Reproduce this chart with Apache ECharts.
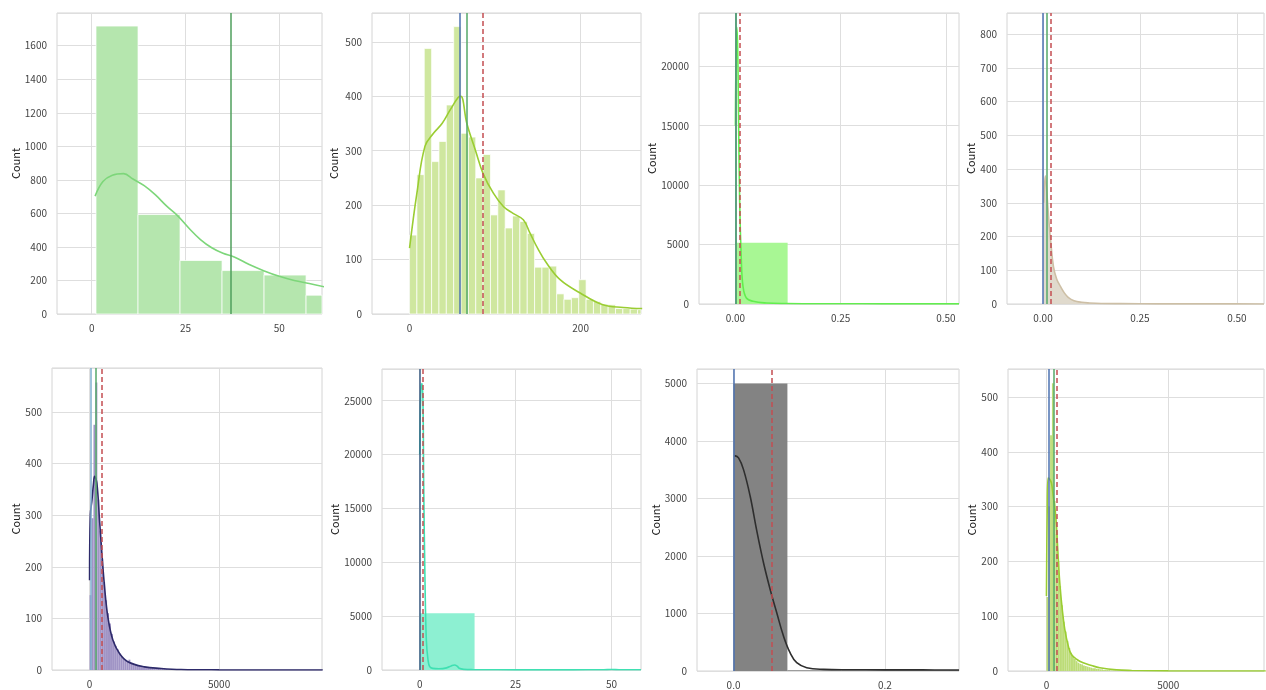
<!DOCTYPE html>
<html><head><meta charset="utf-8">
<script src="https://cdn.jsdelivr.net/npm/echarts@6/dist/echarts.min.js"></script>
<style>html,body{margin:0;padding:0;background:#fff}#c{width:1266px;height:690px}</style>
</head><body><div id="c"></div>
<script>
// ---------- Panel 1 ----------
const p1XTicks = [0, 25, 50];
const p1BinStart = 1.15, p1BinWidth = 11.2;
const p1Counts = [1717, 593, 319, 259, 232, 112];
const p1KdeX = [0.9, 3, 5.5, 8.5, 11, 14, 17, 20, 23, 26, 29, 32, 35, 38, 42, 46, 50, 54, 58, 62];
const p1KdeY = [703, 790, 828, 837, 805, 765, 710, 643, 584, 510, 444, 395, 362, 340, 295, 257, 225, 200, 182, 162];
const p1VLines = [37.0];
// ---------- Panel 2 ----------
const p2XTicks = [0, 200];
const p2BinStart = 0, p2BinWidth = 8.6;
const p2Counts = [145, 256, 488, 280, 317, 384, 528, 332, 325, 250, 293, 182, 228, 158, 180, 170, 148, 86, 86, 88, 37, 27, 30, 63, 27, 23, 18, 17, 10, 10, 9, 8];
const p2KdeX = [0, 8.6, 18, 28, 38, 47.5, 57, 60, 67, 77, 86, 98, 110, 121, 133, 141, 150, 160, 176, 199, 226, 250, 272];
const p2KdeY = [121, 222, 308, 332, 350, 375, 398, 400, 350, 301, 258, 222, 197, 185, 173, 148, 120, 94, 63, 39, 17, 12, 10];
const p2VLines = [59.1, 67.3, 85.2];
// ---------- Panel 3 ----------
const p3XTicks = [0, 0.25, 0.5];
const p3BinStart = 0, p3BinWidth = 0.124;
const p3Counts = [5150];
const p3KdeX = [0, 0.003, 0.005, 0.007, 0.010, 0.014, 0.018, 0.026, 0.042, 0.074, 0.12, 0.2, 0.3, 0.4, 0.531];
const p3KdeY = [15000, 23300, 22000, 17200, 8780, 3730, 1490, 505, 224, 84, 40, 25, 18, 12, 10];
const p3VLines = [0.0, 0.0024, 0.0087];
// ---------- Panel 4 ----------
const p4XTicks = [0, 0.25, 0.5];
const p4KdeX = [0.002, 0.006, 0.01, 0.015, 0.02, 0.027, 0.035, 0.045, 0.055, 0.065, 0.08, 0.1, 0.12, 0.15, 0.2, 0.3, 0.45, 0.57];
const p4KdeY = [300, 380, 330, 250, 185, 111, 75, 52, 33, 20, 10, 5, 3, 1.5, 1, 0.5, 0.3, 0.2];
const p4VLines = [0.0, 0.012, 0.0206];
// ---------- Panel 5 ----------
const p5XTicks = [0, 5000];
const p5BinStart = 0, p5BinWidth = 75;
const p5Counts = [145, 294, 475, 557, 330, 270, 215, 170, 135, 110, 90, 70, 55, 47, 40, 32, 26, 22, 20, 17, 20, 14, 12, 10, 9, 8, 8, 7, 6, 5, 5, 4, 4, 3, 3, 3, 2, 2, 2, 2, 1, 1, 1, 1];
const p5KdeX = [0, 30, 92, 150, 193, 282, 385, 475, 578, 706, 899, 1156, 1477, 2120, 2760, 3530, 5000, 9000];
const p5KdeY = [174, 300, 329, 360, 375, 362, 290, 226, 161, 103, 58, 32, 16, 6, 3, 1, 0.3, 0];
const p5VLines = [54, 230, 451];
// ---------- Panel 6 ----------
const p6XTicks = [0, 25, 50];
const p6BinStart = 0, p6BinWidth = 14.3;
const p6Counts = [5266];
const p6KdeX = [0, 0.3, 0.6, 0.86, 1.03, 1.38, 1.72, 2.16, 2.6, 3.4, 5, 7, 8.2, 9.05, 9.8, 10.3, 11.5, 14, 20, 30, 40, 48, 50, 52, 57.7];
const p6KdeY = [20000, 26000, 26600, 24500, 17350, 8050, 2790, 930, 310, 150, 120, 200, 380, 465, 350, 155, 60, 30, 20, 15, 15, 30, 45, 30, 20];
const p6VLines = [0.0, 0.87];
// ---------- Panel 7 ----------
const p7XTicks = [0, 0.2];
const p7BinStart = 0, p7BinWidth = 0.0712;
const p7Counts = [5000, 15, 15, 15, 15];
const p7KdeX = [0.0013, 0.0066, 0.0132, 0.022, 0.0308, 0.0396, 0.0484, 0.0571, 0.066, 0.0747, 0.0835, 0.0967, 0.119, 0.15, 0.2, 0.25, 0.298];
const p7KdeY = [3744, 3704, 3501, 3038, 2430, 1881, 1418, 1013, 608, 318, 145, 58, 29, 22, 20, 19, 18];
const p7VLines = [0.0, 0.054];
// ---------- Panel 8 ----------
const p8XTicks = [0, 5000];
const p8BinStart = 0, p8BinWidth = 75;
const p8Counts = [135, 300, 430, 525, 310, 250, 200, 155, 120, 90, 72, 55, 42, 33, 27, 22, 18, 15, 13, 12, 10, 9, 8, 7, 6, 5, 5, 4, 4, 3, 3, 2, 2, 2, 2, 1, 1, 1];
const p8KdeX = [0, 30, 68, 130, 205, 290, 383, 460, 547, 650, 752, 900, 1026, 1250, 1505, 1850, 2190, 2875, 3500, 5000, 9000];
const p8KdeY = [137, 290, 352, 350, 343, 315, 282, 225, 161, 112, 76, 45, 30, 21, 15, 10, 6, 2, 1, 0.3, 0];
const p8VLines = [82, 300, 436];

const FONT = '"Noto Sans CJK SC", "DejaVu Sans", sans-serif';
const BLUE = '#4c72b0', GREEN = '#55a868', RED = '#c44e52';

const panels = [
  {grid:{left:57,top:13,width:265,height:301}, xMin:-9.25, xMax:61.4, yMax:1795, yInt:200, xTicks:p1XTicks, dec:0, nameGap:32,
   hist:[p1BinStart,p1BinWidth,p1Counts], barColor:'#b5e6ae', barStroke:'rgba(255,255,255,0.9)', sw:0.8, kde:[p1KdeX,p1KdeY], kdeColor:'#7dd67a', area:null,
   vlines:p1VLines, vcolors:['#4f9f5c'], vtypes:['solid']},
  {grid:{left:372,top:13,width:269,height:301}, xMin:-43.9, xMax:270.6, yMax:553, yInt:100, xTicks:p2XTicks, dec:0, nameGap:33,
   hist:[p2BinStart,p2BinWidth,p2Counts], barColor:'#cfe79f', barStroke:'rgba(255,255,255,0.9)', sw:0.8, kde:[p2KdeX,p2KdeY], kdeColor:'#9acd32', area:null,
   vlines:p2VLines, vcolors:[BLUE,GREEN,RED], vtypes:['solid','solid','dashed']},
  {grid:{left:699,top:13,width:260,height:291}, xMin:-0.0865, xMax:0.531, yMax:24485, yInt:5000, xTicks:p3XTicks, dec:2, nameGap:33,
   hist:[p3BinStart,p3BinWidth,p3Counts], barColor:'#a8f794', barStroke:null, sw:0, kde:[p3KdeX,p3KdeY], kdeColor:'#62ee4e', area:null,
   vlines:p3VLines, vcolors:[BLUE,GREEN,RED], vtypes:['solid','solid','dashed']},
  {grid:{left:1007,top:13,width:257,height:291}, xMin:-0.0928, xMax:0.570, yMax:863, yInt:100, xTicks:p4XTicks, dec:2, nameGap:28,
   hist:null, kde:[p4KdeX,p4KdeY], kdeColor:'#cdbfa5', area:'#ddd6c8',
   vlines:p4VLines, vcolors:[BLUE,GREEN,RED], vtypes:['solid','solid','dashed']},
  {grid:{left:52,top:368,width:270,height:302}, xMin:-1450, xMax:8971, yMax:585, yInt:100, xTicks:p5XTicks, dec:0, nameGap:30,
   hist:[p5BinStart,p5BinWidth,p5Counts], barColor:'#a094c5', barStroke:null, sw:0, kde:[p5KdeX,p5KdeY], kdeColor:'#2d2a6a', area:null,
   vlines:p5VLines, vcolors:['#7fb0cf',GREEN,RED], vtypes:['solid','solid','dashed']},
  {grid:{left:382,top:369,width:259,height:301}, xMin:-9.84, xMax:57.7, yMax:27946, yInt:5000, xTicks:p6XTicks, dec:0, nameGap:39,
   hist:[p6BinStart,p6BinWidth,p6Counts], barColor:'#8df0d2', barStroke:null, sw:0, kde:[p6KdeX,p6KdeY], kdeColor:'#3fe0b2', area:null,
   vlines:p6VLines, vcolors:['#3b5d85',RED], vtypes:['solid','dashed']},
  {grid:{left:697,top:369,width:262,height:303}, xMin:-0.0483, xMax:0.298, yMax:5250, yInt:1000, xTicks:p7XTicks, dec:1, nameGap:33,
   hist:[p7BinStart,p7BinWidth,p7Counts], barColor:'#838383', barStroke:null, sw:0, kde:[p7KdeX,p7KdeY], kdeColor:'#2e2e2e', area:null,
   vlines:p7VLines, vcolors:[BLUE,RED], vtypes:['solid','dashed']},
  {grid:{left:1008,top:369,width:256,height:303}, xMin:-1578, xMax:8928, yMax:551, yInt:100, xTicks:p8XTicks, dec:0, nameGap:30,
   hist:[p8BinStart,p8BinWidth,p8Counts], barColor:'#bcdc78', barStroke:null, sw:0, kde:[p8KdeX,p8KdeY], kdeColor:'#9acd32', area:null,
   vlines:p8VLines, vcolors:[BLUE,GREEN,RED], vtypes:['solid','solid','dashed']}
];

const grid = [], xAxis = [], yAxis = [], series = [];
panels.forEach((p, i) => {
  grid.push(Object.assign({show:true, borderColor:'#d4d4d4', borderWidth:1, containLabel:false}, p.grid));
  xAxis.push({type:'value', gridIndex:i, min:p.xMin, max:p.xMax,
    axisLine:{show:false}, axisTick:{show:false, customValues:p.xTicks},
    axisLabel:{customValues:p.xTicks, color:'#444', fontSize:10, fontFamily:FONT, margin:9,
      formatter:v => Number(v).toFixed(p.dec)},
    splitLine:{show:true, lineStyle:{color:'#dedede', width:1}}});
  yAxis.push({type:'value', gridIndex:i, min:0, max:p.yMax, interval:p.yInt,
    name:'Count', nameLocation:'middle', nameGap:p.nameGap, nameRotate:90,
    nameTextStyle:{color:'#222', fontSize:11, fontFamily:FONT},
    axisLine:{show:false}, axisTick:{show:false},
    axisLabel:{color:'#444', fontSize:10, fontFamily:FONT, margin:10, showMaxLabel:false,
      formatter:v => (Math.abs(v / p.yInt - Math.round(v / p.yInt)) < 1e-6 ? String(Math.round(v)) : '')},
    splitLine:{show:true, lineStyle:{color:'#dedede', width:1}}});
  if (p.hist) {
    const [start, w, counts] = p.hist;
    const data = counts.map((c, k) => [start + k * w, start + (k + 1) * w, c]);
    series.push({type:'custom', xAxisIndex:i, yAxisIndex:i, data, silent:true,
      encode:{x:[0,1], y:2},
      renderItem:(params, api) => {
        const a = api.coord([api.value(0), api.value(2)]);
        const b = api.coord([api.value(1), 0]);
        const cs = params.coordSys;
        const r = echarts.graphic.clipRectByRect(
          {x:a[0], y:a[1], width:b[0]-a[0], height:b[1]-a[1]},
          {x:cs.x, y:cs.y, width:cs.width, height:cs.height});
        if (!r) return null;
        return {type:'rect', shape:r, style:{fill:p.barColor, stroke:p.barStroke || null, lineWidth:p.sw}};
      }});
  }
  const [kx, ky] = p.kde;
  series.push({type:'line', xAxisIndex:i, yAxisIndex:i, data:kx.map((x, k) => [x, ky[k]]),
    smooth:0.4, showSymbol:false, silent:true, clip:true,
    lineStyle:{color:p.kdeColor, width:1.6},
    areaStyle: p.area ? {color:p.area, opacity:0.9} : undefined,
    markLine:{silent:true, symbol:['none','none'], label:{show:false}, animation:false,
      data:p.vlines.map((v, k) => ({xAxis:v, lineStyle:{color:p.vcolors[k], width:1.5, type:p.vtypes[k] === 'dashed' ? [5,3] : 'solid'}}))}
  });
});

const chart = echarts.init(document.getElementById('c'), null, {renderer:'canvas'});
chart.setOption({animation:false, backgroundColor:'#ffffff', grid, xAxis, yAxis, series});
</script></body></html>
